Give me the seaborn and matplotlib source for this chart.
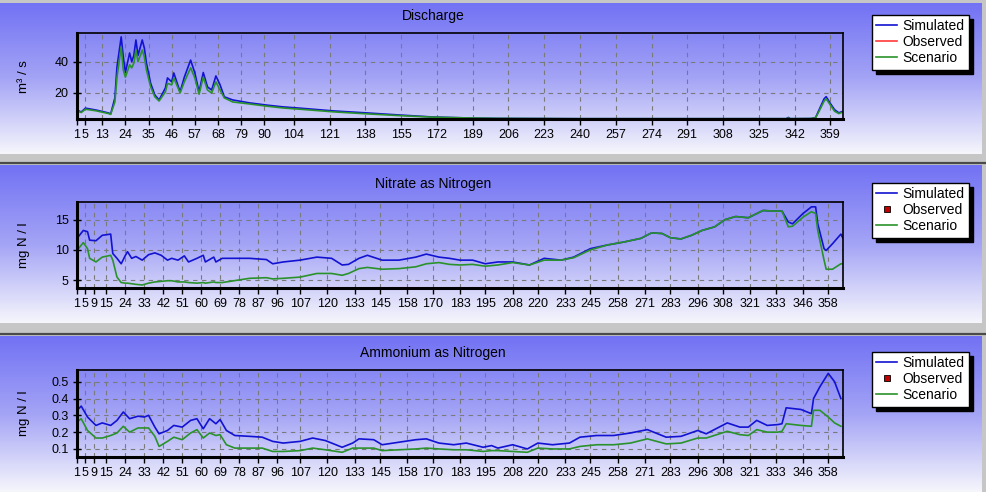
import numpy as np
import matplotlib
matplotlib.use("Agg")
import matplotlib.pyplot as plt
from matplotlib.colors import LinearSegmentedColormap
from matplotlib.lines import Line2D
import seaborn as sns

plt.rcParams['font.family'] = ['Liberation Sans', 'DejaVu Sans']

# ---- data ----
q_days = [1, 3, 5, 10, 16, 17, 19, 20, 22, 23, 24, 26, 27, 28, 29, 30, 32, 33, 34, 36,
          38, 40, 43, 44, 46, 47, 50, 52, 55, 57, 59, 61, 63, 65, 67, 69, 71, 75, 83, 91,
          99, 107, 123, 139, 154, 170, 186, 200, 220, 240, 260, 280, 300, 320, 338, 339,
          340, 350, 352, 354, 356, 357, 359, 361, 363, 365]
q_sim = [8.8, 7.5, 10, 8.8, 6.9, 6.3, 16.6, 36.6, 56, 43, 33, 45.6, 40, 44, 54, 44, 54, 48.8, 39, 26,
         18.5, 15.3, 23, 29.5, 27, 32.7, 20.5, 30, 41, 32.7, 20.5, 33, 23.7, 21.7, 30.8, 25, 17.3, 15.3, 13.4, 12,
         10.8, 10, 8.2, 6.9, 5.6, 4.3, 3.7, 3.4, 3.3, 3.2, 3.2, 3.2, 3.2, 3.2, 3.2, 4.0,
         3.2, 3.3, 4.0, 10, 16, 17.4, 13, 9, 7, 8]
q_scn = [8.3, 7.2, 9.3, 8.3, 6.5, 6.0, 14, 30, 49.5, 34.6, 30, 38, 36, 39, 47.5, 40, 47.5, 43, 34.6, 23.7,
         17.3, 14.6, 20.5, 26, 25, 29.5, 19.8, 27, 36, 29.5, 19, 30, 21.7, 19.8, 27, 21.7, 16.6, 14, 12.7, 11.3,
         10.1, 9.3, 7.6, 6.3, 5.2, 4.2, 3.7, 3.4, 3.3, 3.2, 3.2, 3.2, 3.2, 3.2, 3.2, 3.6,
         3.2, 3.3, 3.8, 9, 14.5, 16, 12, 8, 6.5, 7.5]

n_days = [1, 4, 6, 7, 10, 13, 17, 18, 20, 22, 24, 25, 27, 29, 32, 35, 38, 41, 44, 46,
          49, 52, 54, 58, 61, 62, 66, 67, 70, 83, 91, 94, 99, 107, 115, 122, 127, 130, 135, 139,
          146, 154, 162, 167, 173, 178, 183, 189, 195, 201, 208, 216, 223, 231, 237, 245, 253, 261, 269, 274,
          279, 283, 288, 293, 298, 304, 309, 314, 320, 327, 332, 336, 339, 341, 346, 350, 352, 353, 356, 357,
          360, 364, 365]
n_sim = [11.9, 13.2, 13.0, 11.6, 11.5, 12.4, 12.6, 9.4, 8.6, 7.7, 9.1, 9.7, 8.6, 8.9, 8.3, 9.2, 9.5, 9.1, 8.3, 8.6,
         8.3, 9.0, 8.0, 8.6, 9.1, 8.0, 8.8, 8.0, 8.6, 8.6, 8.4, 7.7, 8.0, 8.3, 8.8, 8.6, 7.5, 7.6, 8.6, 9.1,
         8.3, 8.3, 8.8, 9.3, 8.8, 8.6, 8.3, 8.3, 7.7, 8.0, 8.0, 7.5, 8.6, 8.3, 8.8, 10.2, 10.8, 11.3, 11.9, 12.8,
         12.7, 12.0, 11.8, 12.4, 13.2, 13.8, 15.0, 15.5, 15.3, 16.5, 16.4, 16.4, 14.6, 14.3, 16.0, 17.1, 17.1, 14.3, 10.2, 9.9,
         11.0, 12.6, 11.9]
n_scn = [9.9, 11.2, 10.2, 8.6, 8.0, 8.8, 9.1, 8.3, 5.5, 4.6, 4.5, 4.5, 4.4, 4.3, 4.2, 4.5, 4.7, 4.8, 4.9, 4.9,
         4.7, 4.7, 4.6, 4.5, 4.6, 4.5, 4.7, 4.6, 4.6, 5.3, 5.4, 5.2, 5.3, 5.5, 6.1, 6.1, 5.8, 6.1, 6.9, 7.1,
         6.8, 6.9, 7.2, 7.7, 7.9, 7.6, 7.5, 7.6, 7.3, 7.5, 7.9, 7.5, 8.3, 8.3, 8.7, 10.0, 10.8, 11.3, 11.9, 12.8,
         12.7, 12.0, 11.8, 12.4, 13.2, 13.8, 15.0, 15.5, 15.3, 16.5, 16.4, 16.4, 13.8, 13.9, 15.4, 16.3, 16.0, 13.2, 8.3, 6.8,
         6.8, 7.7, 7.7]

a_days = [1, 3, 6, 10, 13, 17, 20, 23, 26, 30, 33, 35, 38, 40, 44, 47, 51, 55, 58, 61,
          64, 67, 69, 72, 76, 83, 89, 94, 99, 107, 113, 119, 127, 132, 135, 142, 146, 154, 162, 167,
          173, 180, 186, 194, 198, 201, 208, 215, 220, 227, 235, 240, 248, 256, 264, 272, 281, 288, 296, 300,
          310, 316, 320, 324, 329, 334, 336, 338, 345, 350, 351, 354, 358, 361, 364]
a_sim = [0.33, 0.355, 0.29, 0.24, 0.255, 0.24, 0.27, 0.32, 0.28, 0.295, 0.29, 0.30, 0.23, 0.19, 0.21, 0.24, 0.23, 0.27, 0.28, 0.22,
         0.28, 0.25, 0.275, 0.21, 0.18, 0.175, 0.17, 0.145, 0.135, 0.145, 0.165, 0.15, 0.11, 0.135, 0.16, 0.155, 0.125, 0.14, 0.155, 0.16,
         0.135, 0.125, 0.135, 0.11, 0.12, 0.105, 0.125, 0.10, 0.135, 0.125, 0.135, 0.17, 0.18, 0.18, 0.195, 0.215, 0.17, 0.175, 0.21, 0.19,
         0.255, 0.23, 0.23, 0.27, 0.24, 0.245, 0.25, 0.345, 0.335, 0.31, 0.40, 0.47, 0.55, 0.50, 0.40]
a_scn = [0.26, 0.28, 0.21, 0.165, 0.165, 0.18, 0.195, 0.235, 0.20, 0.225, 0.225, 0.225, 0.175, 0.115, 0.145, 0.17, 0.155, 0.195, 0.215, 0.165,
         0.195, 0.18, 0.185, 0.125, 0.105, 0.105, 0.105, 0.085, 0.085, 0.09, 0.105, 0.095, 0.08, 0.105, 0.105, 0.105, 0.09, 0.095, 0.10, 0.105,
         0.10, 0.095, 0.095, 0.085, 0.09, 0.09, 0.085, 0.08, 0.105, 0.10, 0.10, 0.115, 0.125, 0.125, 0.135, 0.16, 0.13, 0.135, 0.165, 0.165,
         0.205, 0.185, 0.18, 0.215, 0.20, 0.20, 0.205, 0.25, 0.24, 0.235, 0.33, 0.33, 0.29, 0.255, 0.235]

q_ticks = [1, 5, 13, 24, 35, 46, 57, 68, 79, 90, 104, 121, 138, 155, 172, 189, 206,
           223, 240, 257, 274, 291, 308, 325, 342, 359]
n_ticks = [1, 5, 9, 15, 24, 33, 42, 51, 60, 69, 78, 87, 96, 107, 120, 133, 145, 158,
           170, 183, 195, 208, 220, 233, 245, 258, 271, 283, 296, 308, 321, 333, 346, 358]

titles = ["Discharge", "Nitrate as Nitrogen", "Ammonium as Nitrogen"]
ylabels = ["m³ / s", "mg N / l", "mg N / l"]
series_names = ["Simulated", "Observed", "Scenario"]

# ---- figure ----
W, H = 986, 492
fig = plt.figure(figsize=(W / 100, H / 100), dpi=100)
fig.patch.set_facecolor("#c6c6c6")

bg = fig.add_axes([0, 0, 1, 1])
bg.set_xlim(0, W)
bg.set_ylim(H, 0)
bg.axis("off")
grad = LinearSegmentedColormap.from_list("panel", ["#7272f4", "#a4a4f6", "#f6f6fc"])
col = np.linspace(0, 1, 256).reshape(-1, 1)
for y0, y1 in [(3, 154), (165, 323), (336, 492)]:
    bg.imshow(col, cmap=grad, extent=[0, 982, y1, y0], aspect="auto", interpolation="bilinear")
for yl in [162.5, 334]:
    bg.plot([0, W], [yl, yl], color="#4a4a4a", lw=1.6)

blue, green, red = "#1212d2", "#2a922a", "#ff3a3a"


def px_axes(x0, y0, x1, y1):
    return fig.add_axes([x0 / W, 1 - y1 / H, (x1 - x0) / W, (y1 - y0) / H], facecolor="none")


panels = [
    (33, 119, q_days, q_sim, q_scn, q_ticks, (3, 58.5), [20, 40], "{:.0f}", 16, 77, 15),
    (202, 288, n_days, n_sim, n_scn, n_ticks, (3.7, 17.9), [5, 10, 15], "{:.0f}", 184, 245, 183),
    (370, 457, a_days, a_sim, a_scn, n_ticks, (0.052, 0.57), [0.1, 0.2, 0.3, 0.4, 0.5], "{:.1f}", 353, 413, 352),
]

for i, (ya, yb, days, sim, scn, ticks, ylim, yticks, fmt, ty, ly, legy) in enumerate(panels):
    ax = px_axes(77, ya, 843, yb)
    sns.lineplot(x=days, y=sim, ax=ax, color=blue, linewidth=1.2, estimator=None)
    sns.lineplot(x=days, y=scn, ax=ax, color=green, linewidth=1.2, estimator=None)
    ax.set_xlim(1, 365)
    ax.set_ylim(*ylim)
    ax.set_xticks(ticks)
    ax.set_xticklabels([str(t) for t in ticks])
    ax.set_yticks(yticks)
    ax.set_yticklabels([fmt.format(v) for v in yticks])
    ax.set_xlabel("")
    ax.set_ylabel("")
    ax.grid(True, color="#7a7a7a", linestyle=(0, (4, 4)), linewidth=0.8)
    ax.tick_params(axis="x", direction="out", length=4, width=1, pad=3, labelsize=9)
    ax.tick_params(axis="y", direction="inout", length=6, width=1, pad=3, labelsize=9)
    for s in ["left", "bottom"]:
        ax.spines[s].set_linewidth(2.2)
    for s in ["top", "right"]:
        ax.spines[s].set_linewidth(1.2)
    for s in ax.spines.values():
        s.set_color("black")

    fig.text(433 / W, 1 - ty / H, titles[i], ha="center", va="center", fontsize=10)
    fig.text(24 / W, 1 - ly / H, ylabels[i], rotation=90, ha="center", va="center", fontsize=9.5)

    if i == 0:
        obs = Line2D([], [], color=red, lw=1.2)
    else:
        obs = Line2D([], [], color="none", marker="s", markersize=4,
                     markerfacecolor="#c00000", markeredgecolor="black", markeredgewidth=0.6)
    handles = [Line2D([], [], color=blue, lw=1.2), obs, Line2D([], [], color=green, lw=1.2)]
    leg = ax.legend(handles, series_names, loc="upper left",
                    bbox_to_anchor=(872 / W, 1 - legy / H), bbox_transform=fig.transFigure,
                    frameon=True, fancybox=False, edgecolor="black", framealpha=1,
                    borderaxespad=0, fontsize=10, handlelength=1.5, handletextpad=0.4,
                    labelspacing=0.15, borderpad=0.3,
                    shadow={"ox": 3, "oy": -3, "facecolor": "black", "edgecolor": "black", "alpha": 1})
    leg.get_frame().set_linewidth(1)

fig.savefig("out.png", dpi=100)
